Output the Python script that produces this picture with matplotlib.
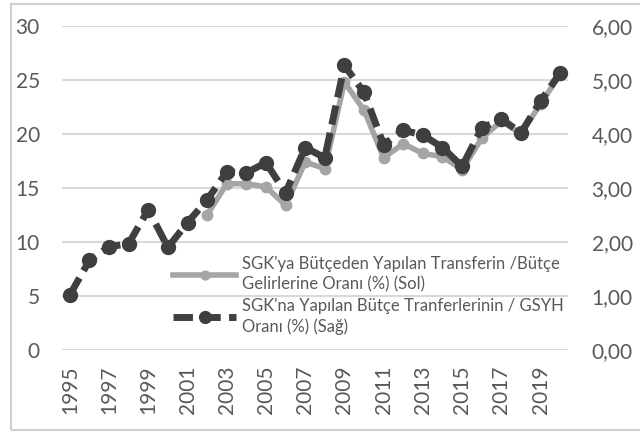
import matplotlib.pyplot as plt
from matplotlib.patches import Rectangle

plt.rcParams["font.family"] = ["Lato", "DejaVu Sans"]

YEARS = list(range(1995, 2021))

# SGK'na yapilan butce transferleri / GSYH (%), right axis
GSYH_YEARS = YEARS
GSYH_RATIO = [1.02, 1.66, 1.91, 1.97, 2.60, 1.90, 2.36, 2.78, 3.30, 3.28, 3.47,
              2.91, 3.75, 3.56, 5.27, 4.77, 3.80, 4.07, 3.98, 3.75, 3.40,
              4.11, 4.28, 4.02, 4.61, 5.13]

# SGK'ya butceden yapilan transfer / butce gelirleri (%), left axis
BUTCE_YEARS = list(range(2002, 2021))
BUTCE_RATIO = [12.5, 15.4, 15.4, 15.1, 13.4, 17.4, 16.8, 24.8, 22.2, 17.8,
               19.1, 18.2, 17.9, 16.7, 19.6, 21.2, 20.0, 22.8, 25.5]

RIGHT_TICKS = ["0,00", "1,00", "2,00", "3,00", "4,00", "5,00", "6,00"]

LABEL_SOL = "SGK'ya Bütçeden Yapılan Transferin /Bütçe\nGelirlerine Oranı (%) (Sol)"
LABEL_SAG = "SGK'na Yapılan Bütçe Tranferlerinin / GSYH\nOranı (%) (Sağ)"

DARK = "#3f3f3f"
GRAY = "#a5a5a5"
GRID = "#d9d9d9"
TEXT = "#595959"


def main():
    fig = plt.figure(figsize=(6.4, 4.33), dpi=100)
    fig.patches.append(Rectangle((11 / 640, 3 / 433), 1.0, 1 - 7 / 433,
                                 transform=fig.transFigure, fill=False,
                                 edgecolor="#d0d0d0", linewidth=1.5))

    ax = fig.add_axes([62 / 640, 1 - 350 / 433, 506 / 640, 324 / 433])
    ax2 = ax.twinx()

    ax.set_xlim(1994.6, 2020.4)
    ax.set_ylim(0, 30)
    ax2.set_ylim(0, 6)
    ax.set_yticks(range(0, 31, 5))
    ax2.set_yticks(range(len(RIGHT_TICKS)))
    ax2.set_yticklabels(RIGHT_TICKS)
    ax.set_xticks(range(1995, 2020, 2))
    ax.tick_params(axis="x", rotation=90, length=0, pad=11, labelsize=15, labelcolor=TEXT)
    ax.tick_params(axis="y", length=0, pad=16, labelsize=15, labelcolor=TEXT)
    ax2.tick_params(axis="y", length=0, pad=17, labelsize=15, labelcolor=TEXT)

    ax.grid(axis="y", color=GRID, linewidth=1.5)
    ax.set_axisbelow(True)
    for a in (ax, ax2):
        for s in a.spines.values():
            s.set_visible(False)

    l1, = ax.plot(BUTCE_YEARS, BUTCE_RATIO, color=GRAY, linewidth=4,
                  marker="o", markersize=7.5, label=LABEL_SOL)
    l2, = ax2.plot(GSYH_YEARS, GSYH_RATIO, color=DARK, linewidth=5,
                   linestyle=(0, (2.8, 1.2)), marker="o", markersize=10,
                   label=LABEL_SAG)

    leg = ax.legend(handles=[l1, l2], loc="upper left",
                    bbox_to_anchor=(158 / 640, 1 - 241 / 433),
                    bbox_transform=fig.transFigure, frameon=False,
                    fontsize=12, handlelength=3.8, handletextpad=0.35,
                    labelspacing=0.3, labelcolor=TEXT, markerscale=0.85)
    for t in leg.get_texts():
        t.set_linespacing(1.35)
    leg.set_zorder(5)

    fig.savefig("out.png", dpi=100)
    plt.close(fig)


if __name__ == "__main__":
    main()
